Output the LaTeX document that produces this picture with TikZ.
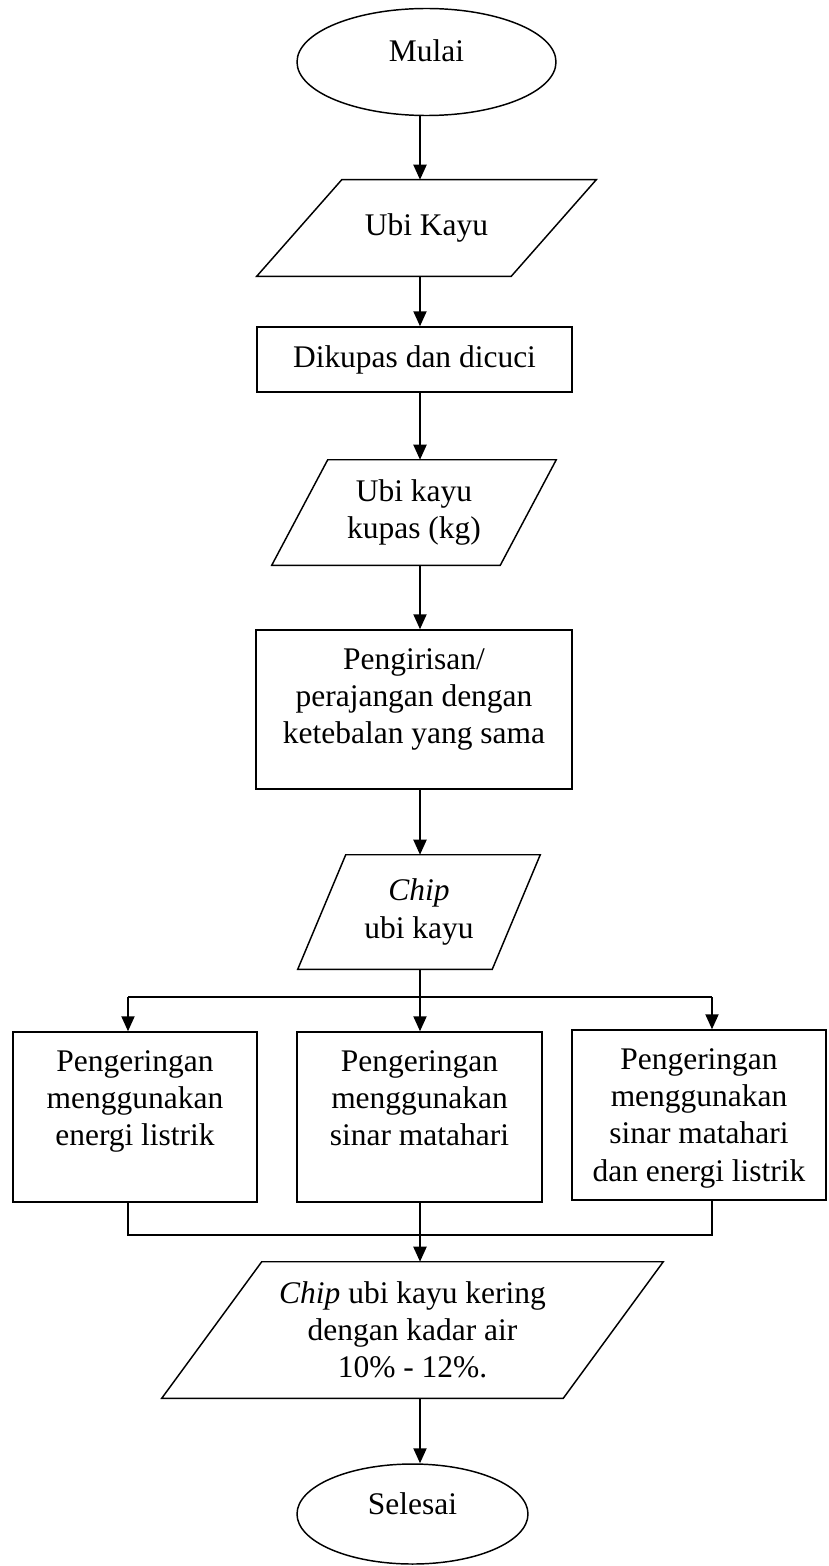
\documentclass[tikz,border=0pt]{standalone}
\usepackage{fontspec}
\setmainfont{Liberation Serif}
\usetikzlibrary{shapes.geometric,arrows.meta}
\tikzset {>={Triangle[length=11.25pt,width=9.75pt]}}

% slanted input/output box drawn round an invisible node
\newcommand{\drawpara}[2]{%
  \draw[shapeline] ([xshift=#2]#1.north west) -- (#1.north east)
    -- ([xshift=-#2]#1.south east) -- (#1.south west) -- cycle;}

\begin{document}
\begin{tikzpicture}[x=0.75pt,y=-0.75pt,
  font=\fontsize{23.6pt}{27.8pt}\selectfont,
  shapeline/.style={line width=1.1pt},
  term/.style={draw,shapeline,ellipse,inner sep=0pt,text height=.68em,text depth=.68em},
  proc/.style={draw,shapeline,rectangle,inner sep=0pt,align=center},
  io/.style={rectangle,inner sep=0pt,align=center},
  flow/.style={->,line width=1.5pt},
  mergeline/.style={line width=1.1pt}]
\useasboundingbox (0,0) rectangle (828,1566);
\coordinate (spine) at (420,0);

\node[term,minimum width=194.25pt,minimum height=80.25pt] (mulai) at (426.5,62) {Mulai};
\node[io,minimum width=254.25pt,minimum height=72pt] (ubi) at (426.5,228) {Ubi Kayu};
\node[proc,minimum width=236.25pt,minimum height=48.75pt] (kupas) at (414.5,359.5) {Dikupas dan dicuci};
\node[io,minimum width=213pt,minimum height=78.75pt] (ubikupas) at (414,512.5) {Ubi kayu\\kupas (kg)};
\node[proc,minimum width=237pt,minimum height=119.25pt,text depth=19.5pt] (iris) at (414,709.5)
  {Pengirisan/\\perajangan dengan\\ketebalan yang sama};
\node[io,minimum width=181.5pt,minimum height=85.5pt] (chip) at (419,912) {\textit{Chip}\\ubi kayu};

\node[proc,minimum width=183pt,minimum height=127.5pt,text depth=27.75pt] (dryA) at (135,1117)
  {Pengeringan\\menggunakan\\energi listrik};
\node[proc,minimum width=183.75pt,minimum height=127.5pt,text depth=27.75pt] (dryB) at (419.5,1117)
  {Pengeringan\\menggunakan\\sinar matahari};
\node[proc,minimum width=190.5pt,minimum height=127.5pt,text depth=0pt] (dryC) at (699,1115)
  {Pengeringan\\menggunakan\\sinar matahari\\dan energi listrik};

\node[io,minimum width=375.75pt,minimum height=102pt] (kering) at (412.5,1330)
  {\textit{Chip} ubi kayu kering\\dengan kadar air\\10\% - 12\%.};
\node[term,minimum width=173.25pt,minimum height=75pt] (selesai) at (412.5,1514) {Selesai};

\drawpara{ubi}{63.75pt}
\drawpara{ubikupas}{42pt}
\drawpara{chip}{36pt}
\drawpara{kering}{75pt}

\coordinate (split) at (420,997);
\coordinate (colA) at (128,997);
\coordinate (colC) at (712,997);
\coordinate (mergeA) at (128,1235);
\coordinate (mergeC) at (712,1235);

\draw[flow] (mulai.south -| spine) -- (ubi.north -| spine);
\draw[flow] (ubi.south -| spine) -- (kupas.north -| spine);
\draw[flow] (kupas.south -| spine) -- (ubikupas.north -| spine);
\draw[flow] (ubikupas.south -| spine) -- (iris.north -| spine);
\draw[flow] (iris.south -| spine) -- (chip.north -| spine);
\draw[line width=1.5pt] (chip.south -| spine) -- (split);
\draw[line width=1.5pt] (colA) -- (colC);
\draw[flow] (colA) -- (colA |- dryA.north);
\draw[flow] (split) -- (split |- dryB.north);
\draw[flow] (colC) -- (colC |- dryC.north);
\draw[mergeline] (colA |- dryA.south) -- (mergeA) -- (mergeC) -- (colC |- dryC.south);
\draw[flow] (dryB.south -| spine) -- (kering.north -| spine);
\draw[flow] (kering.south -| spine) -- (selesai.north -| spine);
\end{tikzpicture}
\end{document}
